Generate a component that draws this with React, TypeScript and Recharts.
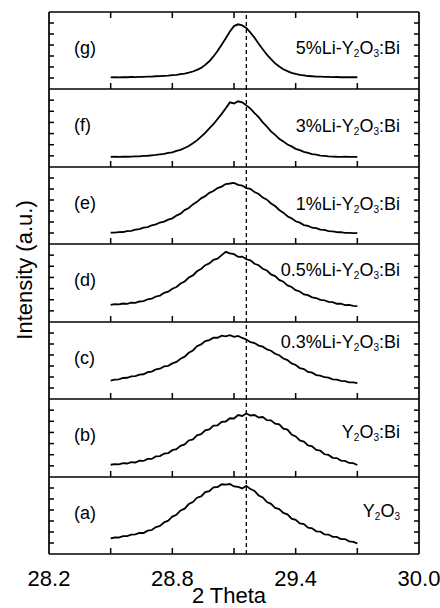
import { Line, LineChart, ReferenceLine, XAxis, YAxis } from 'recharts'

// 2θ positions of the scan (deg)
const twoTheta = [
  28.5, 28.52, 28.54, 28.56, 28.58, 28.6, 28.62, 28.64, 28.66, 28.68,
  28.7, 28.72, 28.74, 28.76, 28.78, 28.8, 28.82, 28.84, 28.86, 28.88,
  28.9, 28.92, 28.94, 28.96, 28.98, 29.0, 29.02, 29.04, 29.06, 29.08,
  29.1, 29.12, 29.14, 29.16, 29.18, 29.2, 29.22, 29.24, 29.26, 29.28,
  29.3, 29.32, 29.34, 29.36, 29.38, 29.4, 29.42, 29.44, 29.46, 29.48,
  29.5, 29.52, 29.54, 29.56, 29.58, 29.6, 29.62, 29.64, 29.66, 29.68,
  29.7,
]

const frameTicks = [28.5, 28.8, 29.1, 29.4, 29.7]
const labelTicks = [28.2, 28.8, 29.4, 30.0]
const intensityTicks = [1, 2, 3, 4, 5, 6]
const referencePeak = 29.16

// intensities in panel units (each panel spans 0..7)
const sampleG = [
  1.06, 1.07, 1.06, 1.08, 1.07, 1.09, 1.08, 1.10, 1.11, 1.12,
  1.13, 1.16, 1.17, 1.20, 1.22, 1.26, 1.29, 1.35, 1.40, 1.49,
  1.59, 1.74, 1.92, 2.19, 2.52, 2.96, 3.45, 4.03, 4.62, 5.23,
  5.72, 5.88, 5.78, 5.55, 5.12, 4.66, 4.12, 3.62, 3.12, 2.72,
  2.34, 2.05, 1.80, 1.62, 1.47, 1.37, 1.28, 1.23, 1.18, 1.16,
  1.13, 1.12, 1.10, 1.10, 1.08, 1.09, 1.07, 1.08, 1.07, 1.07,
  1.07,
]
const sampleF = [
  0.91, 0.92, 0.91, 0.93, 0.92, 0.94, 0.95, 0.96, 0.99, 1.01,
  1.05, 1.08, 1.14, 1.17, 1.26, 1.32, 1.44, 1.54, 1.71, 1.88,
  2.13, 2.39, 2.73, 3.06, 3.47, 3.84, 4.31, 4.77, 5.27, 5.80,
  5.70, 5.90, 5.80, 5.53, 5.24, 4.84, 4.47, 4.00, 3.62, 3.20,
  2.88, 2.53, 2.30, 2.02, 1.85, 1.63, 1.52, 1.36, 1.27, 1.16,
  1.11, 1.03, 1.00, 0.95, 0.94, 0.92, 0.91, 0.92, 0.91, 0.91,
  0.91,
]
const sampleE = [
  1.03, 1.04, 1.08, 1.09, 1.17, 1.20, 1.30, 1.35, 1.48, 1.53,
  1.70, 1.78, 1.95, 2.03, 2.21, 2.33, 2.58, 2.76, 3.08, 3.27,
  3.60, 3.83, 4.15, 4.35, 4.65, 4.82, 5.08, 5.22, 5.45, 5.50,
  5.56, 5.38, 5.31, 5.08, 5.02, 4.72, 4.54, 4.22, 4.03, 3.69,
  3.45, 3.09, 2.85, 2.52, 2.33, 2.07, 1.94, 1.72, 1.64, 1.48,
  1.44, 1.31, 1.28, 1.17, 1.15, 1.08, 1.07, 1.02, 1.02, 0.99,
  0.98,
]
const sampleD = [
  1.53, 1.60, 1.58, 1.66, 1.63, 1.73, 1.72, 1.84, 1.87, 2.04,
  2.09, 2.29, 2.37, 2.62, 2.72, 2.99, 3.14, 3.46, 3.64, 3.99,
  4.18, 4.55, 4.76, 5.10, 5.26, 5.57, 5.68, 6.00, 6.30, 6.16,
  6.09, 5.85, 5.87, 5.63, 5.54, 5.23, 5.09, 4.78, 4.62, 4.27,
  4.12, 3.78, 3.62, 3.28, 3.14, 2.86, 2.74, 2.48, 2.41, 2.21,
  2.15, 1.98, 1.95, 1.80, 1.78, 1.64, 1.65, 1.52, 1.53, 1.45,
  1.42,
]
const sampleC = [
  1.68, 1.77, 1.79, 1.91, 1.93, 2.05, 2.08, 2.22, 2.25, 2.44,
  2.49, 2.69, 2.75, 2.96, 3.02, 3.24, 3.37, 3.66, 3.85, 4.20,
  4.41, 4.80, 4.96, 5.27, 5.36, 5.58, 5.57, 5.76, 5.70, 5.80,
  5.65, 5.74, 5.55, 5.41, 5.16, 5.09, 4.86, 4.76, 4.51, 4.39,
  4.11, 3.98, 3.68, 3.54, 3.24, 3.09, 2.81, 2.72, 2.46, 2.39,
  2.18, 2.13, 1.98, 1.95, 1.79, 1.77, 1.65, 1.62, 1.52, 1.51,
  1.44,
]
const sampleB = [
  1.10, 1.16, 1.13, 1.24, 1.21, 1.33, 1.30, 1.46, 1.44, 1.63,
  1.62, 1.85, 1.88, 2.10, 2.15, 2.41, 2.50, 2.80, 2.92, 3.28,
  3.38, 3.74, 3.84, 4.19, 4.28, 4.62, 4.64, 4.95, 4.98, 5.27,
  5.25, 5.56, 5.48, 5.70, 5.52, 5.56, 5.34, 5.38, 5.10, 5.08,
  4.78, 4.72, 4.34, 4.25, 3.82, 3.64, 3.28, 3.18, 2.84, 2.76,
  2.43, 2.36, 2.04, 1.98, 1.72, 1.70, 1.47, 1.45, 1.26, 1.24,
  1.08,
]
const sampleA = [
  1.43, 1.50, 1.50, 1.62, 1.63, 1.76, 1.78, 1.92, 1.91, 2.12,
  2.18, 2.45, 2.56, 2.88, 3.03, 3.40, 3.57, 3.96, 4.12, 4.54,
  4.72, 5.12, 5.24, 5.62, 5.72, 6.05, 6.09, 6.34, 6.30, 6.36,
  6.14, 6.10, 5.96, 6.20, 5.90, 5.73, 5.32, 5.14, 4.72, 4.56,
  4.19, 4.08, 3.74, 3.61, 3.22, 3.11, 2.79, 2.71, 2.39, 2.34,
  2.06, 2.03, 1.79, 1.77, 1.56, 1.56, 1.36, 1.36, 1.15, 1.11,
  0.97,
]

const PLOT_TOP = 12
const PLOT_BOTTOM = 554
const PLOT_LEFT = 49
const PLOT_RIGHT = 419
const X_MIN = 28.2
const X_MAX = 30
const Y_MAX = 7
const FONT = '"Liberation Sans", Arial, Helvetica, sans-serif'

const formula = (prefix: string, suffix: string) => (
  <>
    {prefix}Y
    <tspan fontSize={10} dy={5}>2</tspan>
    <tspan dy={-5}>O</tspan>
    <tspan fontSize={10} dy={5}>3</tspan>
    <tspan dy={-5}>{suffix}</tspan>
  </>
)

const panels = [
  { tag: '(g)', values: sampleG, name: formula('5%Li-', ':Bi'), nameY: 36 },
  { tag: '(f)', values: sampleF, name: formula('3%Li-', ':Bi'), nameY: 37 },
  { tag: '(e)', values: sampleE, name: formula('1%Li-', ':Bi'), nameY: 37 },
  { tag: '(d)', values: sampleD, name: formula('0.5%Li-', ':Bi'), nameY: 26 },
  { tag: '(c)', values: sampleC, name: formula('0.3%Li-', ':Bi'), nameY: 20 },
  { tag: '(b)', values: sampleB, name: formula('', ':Bi'), nameY: 33 },
  { tag: '(a)', values: sampleA, name: formula('', ''), nameY: 34 },
]

const PANEL_H = (PLOT_BOTTOM - PLOT_TOP) / panels.length
const frame = { stroke: '#000', strokeWidth: 1.7 }
const tickStroke = { stroke: '#000', strokeWidth: 1.5 }
const noLabel = () => ''

const panelTop = (i: number) => Math.round(PLOT_TOP + i * PANEL_H)
// frame decoration only: maps axis values to page pixels for the inner tick marks
const px = (x: number) => PLOT_LEFT + ((x - X_MIN) / (X_MAX - X_MIN)) * (PLOT_RIGHT - PLOT_LEFT)
const py = (i: number, y: number) => {
  const top = panelTop(i)
  const bottom = panelTop(i + 1)
  return bottom - (y / Y_MAX) * (bottom - top)
}

const Panel = ({ index }: { index: number }) => {
  const panel = panels[index]
  const top = panelTop(index)
  const h = panelTop(index + 1) - top
  const isFirst = index === 0
  const isLast = index === panels.length - 1
  const data = twoTheta.map((x, i) => ({ x, v: panel.values[i] }))

  return (
    <div style={{ position: 'absolute', left: 0, top: top - 1 }}>
      <LineChart
        width={440}
        height={h + 2 + (isLast ? 44 : 0)}
        data={data}
        margin={{ top: 1, right: 440 - PLOT_RIGHT, bottom: 1, left: PLOT_LEFT }}
      >
        <XAxis
          xAxisId={'main'}
          dataKey={'x'}
          type={'number'}
          domain={[X_MIN, X_MAX]}
          allowDataOverflow
          mirror
          height={1}
          tick={false}
          tickLine={false}
          axisLine={frame}
        />
        {isFirst && (
          <XAxis
            xAxisId={'top'}
            orientation={'top'}
            dataKey={'x'}
            type={'number'}
            domain={[X_MIN, X_MAX]}
            allowDataOverflow
            mirror
            height={1}
            tick={false}
            tickLine={false}
            axisLine={frame}
          />
        )}
        {isLast && (
          <XAxis
            xAxisId={'labels'}
            dataKey={'x'}
            type={'number'}
            domain={[X_MIN, X_MAX]}
            ticks={labelTicks}
            interval={0}
            allowDataOverflow
            height={44}
            axisLine={false}
            tickLine={false}
            tickSize={0}
            tickMargin={16}
            tickFormatter={(v: number) => v.toFixed(1)}
            tick={{ fill: '#000', fontSize: 22, fontFamily: FONT }}
          />
        )}
        <YAxis
          yAxisId={'left'}
          type={'number'}
          domain={[0, Y_MAX]}
          ticks={intensityTicks}
          interval={0}
          allowDataOverflow
          mirror
          width={1}
          tickSize={5}
          tickFormatter={noLabel}
          axisLine={frame}
          tickLine={tickStroke}
        />
        <YAxis
          yAxisId={'right'}
          orientation={'right'}
          type={'number'}
          domain={[0, Y_MAX]}
          allowDataOverflow
          mirror
          width={1}
          tick={false}
          tickLine={false}
          axisLine={frame}
        />
        <ReferenceLine
          xAxisId={'main'}
          yAxisId={'left'}
          x={referencePeak}
          stroke={'#000'}
          strokeWidth={1.3}
          strokeDasharray={'4 3'}
        />
        <Line
          xAxisId={'main'}
          yAxisId={'left'}
          dataKey={'v'}
          type={'linear'}
          stroke={'#000'}
          strokeWidth={1.8}
          dot={false}
          isAnimationActive={false}
        />
      </LineChart>
    </div>
  )
}

export default function App() {
  return (
    <div
      style={{
        position: 'absolute',
        left: 0,
        top: 0,
        width: 440,
        height: 608,
        background: '#fff',
        fontFamily: FONT,
      }}
    >
      {panels.map((p, i) => (
        <Panel key={p.tag} index={i} />
      ))}
      <svg
        width={440}
        height={608}
        style={{ position: 'absolute', left: 0, top: 0, pointerEvents: 'none' }}
      >
        <g stroke={'#000'} strokeWidth={1.5}>
          {panels.map((p, i) => (
            <g key={p.tag}>
              {frameTicks.map((x) => (
                <line key={`b${x}`} x1={px(x)} x2={px(x)} y1={py(i, 0)} y2={py(i, 0) - 6} />
              ))}
              {i === 0 &&
                frameTicks.map((x) => (
                  <line key={`t${x}`} x1={px(x)} x2={px(x)} y1={py(i, Y_MAX)} y2={py(i, Y_MAX) + 6} />
                ))}
              {intensityTicks.map((y) => (
                <line key={`r${y}`} x1={PLOT_RIGHT} x2={PLOT_RIGHT - 5} y1={py(i, y)} y2={py(i, y)} />
              ))}
            </g>
          ))}
        </g>
        {panels.map((p, i) => (
          <g key={p.tag} fontFamily={FONT} fontSize={18} fill={'#000'}>
            <text x={74} y={panelTop(i) + 36} dominantBaseline={'central'}>
              {p.tag}
            </text>
            <text x={400} y={panelTop(i) + p.nameY} textAnchor={'end'} dominantBaseline={'central'}>
              {p.name}
            </text>
          </g>
        ))}
        <text
          x={24}
          y={270}
          transform={'rotate(-90 24 270)'}
          textAnchor={'middle'}
          dominantBaseline={'central'}
          fontFamily={FONT}
          fontSize={22}
        >
          Intensity (a.u.)
        </text>
        <text x={229} y={603} textAnchor={'middle'} fontFamily={FONT} fontSize={22}>
          2 Theta
        </text>
      </svg>
    </div>
  )
}
